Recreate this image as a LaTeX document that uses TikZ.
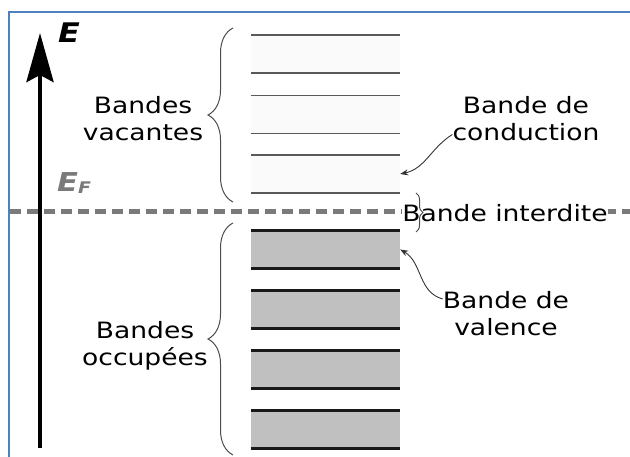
\documentclass[tikz,border=0pt]{standalone}
\usepackage{fontspec}
\setmainfont{DejaVu Sans}[FakeStretch=1.18]
\usetikzlibrary{arrows.meta,decorations.pathreplacing}
\definecolor{frameblue}{HTML}{4F81BD}
\definecolor{bandgray}{HTML}{C0C0C0}
\definecolor{fermigray}{HTML}{7A7A7A}

\begin{document}
\begin{tikzpicture}
    [x=1pt, y=1pt,
    lbl/.style={align=center, inner sep=0pt, font=\fontsize{22.5}{27}\selectfont},
    cband/.style={fill=black!2, minimum width=149pt, minimum height=38pt, inner sep=0pt},
    vband/.style={fill=bandgray, minimum width=149pt, minimum height=37.5pt, inner sep=0pt},
    cline/.style={line width=1.5pt, draw=black!65},
    vline/.style={line width=2.5pt, draw=black!90},
    curly/.style={decorate, decoration={brace, amplitude=#1}, draw=black!70, line width=1pt},
    curly/.default=25pt,
    pointer/.style={-{Stealth[length=8pt,width=6pt]}, line width=0.9pt, draw=black!80}]
        \useasboundingbox (0,0) rectangle (630,457);
        \draw[frameblue, line width=1.5pt] (9,0) -- (9,445) -- (630,445);

        %% Energy axis
        \coordinate (axbot) at (40,9);
        \coordinate (axtop) at (40,424);
        \draw[line width=4.5pt, -{Stealth[length=49pt, width=27pt, inset=7pt]}] (axbot) -- (axtop);
        \node[font=\fontsize{27}{27}\selectfont\bfseries\itshape] (E) at (69,424) {E};

        %% Fermi level
        \coordinate (fl) at (10,245.5);
        \coordinate (fr) at (630,245.5);
        \draw[fermigray, line width=5pt, dash pattern=on 11pt off 6pt] (fl) -- (fr);
        \node[anchor=base west, text=fermigray, inner sep=0pt,
              font=\fontsize{26}{26}\selectfont\bfseries\itshape] (EF) at (57,265)
              {E\raisebox{-2pt}{\fontsize{16}{16}\selectfont F}};

        %% Bands
        \foreach \n/\y in {1/283, 2/342.5, 3/403} {
            \node[cband] (c\n) at (325.5,\y) {};
            \draw[cline] (c\n.north west) -- (c\n.north east) (c\n.south west) -- (c\n.south east);
        }
        \foreach \n/\y in {1/207.5, 2/147.5, 3/87.5, 4/27.5} {
            \node[vband] (v\n) at (325.5,\y) {};
            \draw[vline] (v\n.north west) -- (v\n.north east) (v\n.south west) -- (v\n.south east);
        }

        %% Labels
        \node[lbl] (vac) at (143,338.5) {Bandes\\vacantes};
        \node[lbl] (occ) at (145,111) {Bandes\\occupées};
        \node[lbl] (cond) at (526,338.5) {Bande de\\conduction};
        \node[lbl] (val) at (506,143) {Bande de\\valence};
        \node[lbl, anchor=base, fill=white] (gap) at (505,235) {Bande interdite};

        %% Braces
        \draw[curly] (233,255) -- (233,429);
        \draw[curly] (233,2) -- (233,234);
        \draw[curly=7pt] (416,264) -- (416,225);

        \draw[pointer] ([yshift=-16pt]cond.west) to[out=212, in=12] (c1.east);
        \draw[pointer] ([yshift=15pt]val.west) to[out=165, in=-30] (v1.east);
    \end{tikzpicture}
\end{document}
